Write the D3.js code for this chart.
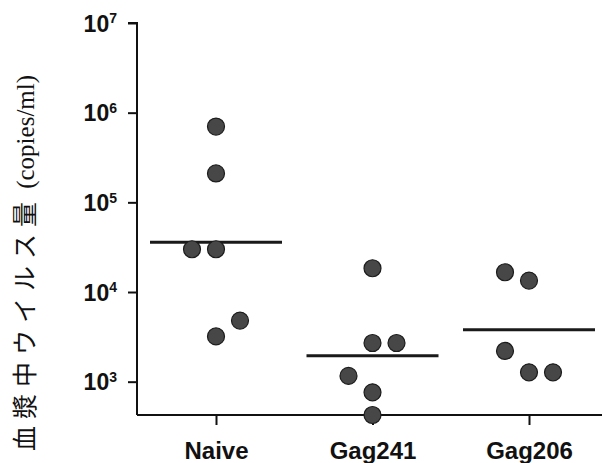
<!DOCTYPE html>
<html lang='ja'>
<head>
  <meta charset='UTF-8'>
  <title>血漿中ウイルス量</title>
  <style>
  body {
    margin: 0;
    background: #fff;
  }
  .axis path, .axis line {
    stroke: #111;
    stroke-width: 2px;
  }
  .axis text {
    font-family: 'Liberation Sans', Arial, sans-serif;
    font-weight: bold;
    fill: #111;
  }
  .dot {
    fill: #474747;
    stroke: #1c1c1c;
    stroke-width: 1.2px;
  }
  .mean {
    stroke: #1a1a1a;
    stroke-width: 3px;
  }
  </style>
  <script src='https://d3js.org/d3.v7.min.js'></script>
</head>
<body>
  <script>

  // data

  var groups = ['Naive', 'Gag241', 'Gag206'];

  var naiveValues = [700000, 210000, 30000, 30000, 4800, 3200];
  var naiveLanes = [0, 0, -1, 0, 1, 0];

  var gag241Values = [18400, 2700, 2700, 1160, 760, 425];
  var gag241Lanes = [0, 0, 1, -1, 0, 0];

  var gag206Values = [16600, 13400, 2200, 1270, 1270];
  var gag206Lanes = [-1, 0, -1, 0, 1];

  var groupMeans = [36000, 1950, 3800];

  var tickExponents = [3, 4, 5, 6, 7];

  var svgWidth = 602;
  var svgHeight = 463;
  var margin = { top: 23, right: 2, bottom: 48, left: 137 };
  var width = svgWidth - margin.left - margin.right;
  var height = svgHeight - margin.top - margin.bottom;

  var svg = d3.select('body').append('svg')
    .attr('width', svgWidth)
    .attr('height', svgHeight);

  var g = svg.append('g').attr('transform', 'translate(' + margin.left + ',' + margin.top + ')');

  var x = d3.scalePoint().domain(groups).range([79, 392]);
  var y = d3.scaleLog().domain([425, 1e7]).range([height, 0]);
  var laneStep = 24;
  var meanHalf = 66;

  // flatten the groups into points

  var series = [
    { name: 'Naive', values: naiveValues, lanes: naiveLanes },
    { name: 'Gag241', values: gag241Values, lanes: gag241Lanes },
    { name: 'Gag206', values: gag206Values, lanes: gag206Lanes }
  ];

  var points = [];
  series.forEach(function (s) {
    s.values.forEach(function (v, i) {
      points.push({ group: s.name, value: v, lane: s.lanes[i] });
    });
  });

  // axes

  var yAxis = g.append('g')
    .attr('class', 'axis')
    .call(d3.axisLeft(y)
      .tickValues(tickExponents.map(function (e) { return Math.pow(10, e); }))
      .tickSize(9)
      .tickSizeOuter(0)
      .tickFormat(''));

  yAxis.select('.domain').attr('d', 'M-9,0H0V' + height);

  yAxis.selectAll('.tick').each(function (d) {
    var t = d3.select(this).append('text')
      .attr('x', -20)
      .attr('dy', '0.36em')
      .attr('text-anchor', 'end')
      .style('font-size', '23px');
    t.append('tspan').text('10');
    t.append('tspan')
      .attr('dy', '-0.6em')
      .style('font-size', '14px')
      .text(Math.round(Math.log10(d)));
  });

  var xAxis = g.append('g')
    .attr('class', 'axis')
    .attr('transform', 'translate(0,' + height + ')')
    .call(d3.axisBottom(x).tickSize(10).tickSizeOuter(0).tickPadding(12));

  xAxis.select('.domain').attr('d', 'M0,0H' + (width + 2));
  xAxis.selectAll('text')
    .style('font-size', '24px')
    .attr('dy', '0.9em');

  // mean lines

  g.selectAll('.mean')
    .data(groupMeans)
    .enter()
    .append('line')
    .attr('class', 'mean')
    .attr('x1', function (d, i) { return x(groups[i]) - meanHalf; })
    .attr('x2', function (d, i) { return x(groups[i]) + meanHalf; })
    .attr('y1', function (d) { return y(d); })
    .attr('y2', function (d) { return y(d); });

  // dots

  g.selectAll('.dot')
    .data(points)
    .enter()
    .append('circle')
    .attr('class', 'dot')
    .attr('r', 8.5)
    .attr('cx', function (d) { return x(d.group) + d.lane * laneStep; })
    .attr('cy', function (d) { return y(d.value); });

  // y label

  var label = svg.append('text')
    .attr('transform', 'translate(34,' + (margin.top + 240) + ') rotate(-90)')
    .attr('text-anchor', 'middle')
    .style('fill', '#111');

  label.append('tspan')
    .style('font-family', "'Noto Sans CJK JP', sans-serif")
    .style('font-size', '25px')
    .style('letter-spacing', '7px')
    .text('血漿中ウイルス量');

  label.append('tspan')
    .style('font-family', "'Liberation Serif', 'Times New Roman', serif")
    .style('font-size', '25px')
    .text(' (copies/ml)');
  </script>
</body>
</html>
